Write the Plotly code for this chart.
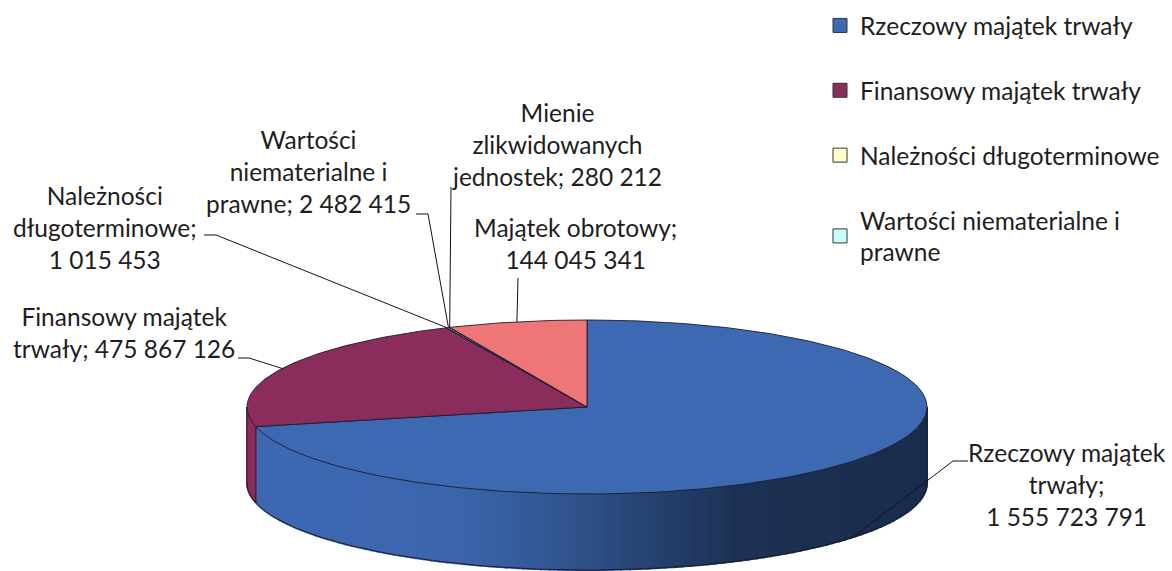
import math
import plotly.graph_objects as go

# ---- data ----
categories = ["Rzeczowy majątek trwały", "Finansowy majątek trwały", "Należności długoterminowe",
              "Wartości niematerialne i prawne", "Mienie zlikwidowanych jednostek", "Majątek obrotowy"]
values = [1555723791, 475867126, 1015453, 2482415, 280212, 144045341]
label_names = ["Rzeczowy majątek<br>trwały;<br>", "Finansowy majątek<br>trwały; ", "Należności<br>długoterminowe;<br>",
               "Wartości<br>niematerialne i<br>prawne; ", "Mienie<br>zlikwidowanych<br>jednostek; ", "Majątek obrotowy;<br>"]
legend_names = ["Rzeczowy majątek trwały", "Finansowy majątek trwały", "Należności długoterminowe",
                "Wartości niematerialne i<br>prawne"]
colors = ["#3D69B3", "#8B2D5C", "#FFFFC8", "#C8FFFF", "#3D3D6B", "#EE7676"]
legend_colors = ["#3D69B3", "#8B2D5C", "#FFFFC8", "#C8FFFF"]

# ---- layout of the tilted pie (pixel axes) ----
W, H = 1172, 571
CX, CY, RX, RY, DEPTH = 587, 407, 340, 87, 76
OUTLINE = "#1c1c2c"
TEXT = "#1e1e1e"
FONT = "Lato"
FS = 24.5
LEGEND_FS = 24.5
label_pos = [(1067, 484), (124, 332), (105, 227), (308, 171), (557, 144), (575, 243)]
# horizontal stub of each leader: start at label side, elbow
leader_stub = [(968, 953), (238, 249), (204, 216), (416, 428), (451, 451), (518, 518)]
leader_y = [461, 358, 235, 214, 187, 278]
# gradient stops of the side wall: position along x in the wall, shade factor
shade_stops = [(0.0, 1.0), (0.3, 0.97), (0.45, 0.82), (0.6, 0.62), (0.72, 0.47), (1.0, 0.42)]


def pt(deg, dy=0.0):
    a = math.radians(deg)
    return CX + RX * math.sin(a), CY - RY * math.cos(a) + dy


def shade(hexc, f):
    r, g, b = (int(hexc[i:i + 2], 16) for i in (1, 3, 5))
    return f"rgb({r * f:.0f},{g * f:.0f},{b * f:.0f})"


def factor(x):
    t = (x - (CX - RX)) / (2 * RX)
    for (a, fa), (b, fb) in zip(shade_stops, shade_stops[1:]):
        if t <= b:
            return fa + (fb - fa) * (t - a) / (b - a)
    return shade_stops[-1][1]


total = sum(values)
angles = [0.0]
for v in values:
    angles.append(angles[-1] + v / total * 360)

fig = go.Figure()
skip = dict(hoverinfo="skip", showlegend=False)

# side wall: narrow strips, front half only (90..270 degrees)
for i, col in enumerate(colors):
    a0, a1 = max(angles[i], 90), min(angles[i + 1], 270)
    if a1 <= a0:
        continue
    n = max(1, int((a1 - a0) / 1.5))
    for k in range(n):
        s0, s1 = a0 + (a1 - a0) * k / n, a0 + (a1 - a0) * (k + 1) / n
        p0, p1 = pt(s0), pt(s1)
        c = shade(col, factor((p0[0] + p1[0]) / 2))
        fig.add_trace(go.Scatter(
            x=[p0[0], p1[0], p1[0], p0[0], p0[0]],
            y=[p0[1], p1[1], p1[1] + DEPTH, p0[1] + DEPTH, p0[1]],
            mode="lines", fill="toself", fillcolor=c, line=dict(color=c, width=2), **skip))

# outline of the wall
arc = [90 + i * 1.5 for i in range(121)]
fig.add_trace(go.Scatter(x=[pt(a, DEPTH)[0] for a in arc], y=[pt(a, DEPTH)[1] for a in arc],
                         mode="lines", line=dict(color=OUTLINE, width=1), **skip))
for a in (90, 270, angles[1]):
    p = pt(a)
    fig.add_trace(go.Scatter(x=[p[0], p[0]], y=[p[1], p[1] + DEPTH], mode="lines",
                             line=dict(color=OUTLINE, width=0.8), **skip))

# top faces
for i, col in enumerate(colors):
    n = max(2, int((angles[i + 1] - angles[i]) / 1.0))
    sweep = [angles[i] + (angles[i + 1] - angles[i]) * k / n for k in range(n + 1)]
    xs = [CX] + [pt(a)[0] for a in sweep] + [CX]
    ys = [CY] + [pt(a)[1] for a in sweep] + [CY]
    fig.add_trace(go.Scatter(x=xs, y=ys, mode="lines", fill="toself", fillcolor=col,
                             line=dict(color=OUTLINE, width=0.9), name=categories[i],
                             text=f"{categories[i]}: {values[i]:,}".replace(",", " "),
                             hoverinfo="text", showlegend=False))

# leader lines and data labels
for i, v in enumerate(values):
    mid = (angles[i] + angles[i + 1]) / 2
    end = pt(mid, DEPTH if 90 < mid < 270 else 0)
    sx, ex = leader_stub[i]
    fig.add_trace(go.Scatter(x=[sx, ex, end[0]], y=[leader_y[i], leader_y[i], end[1]], mode="lines",
                             line=dict(color="#141414", width=1), **skip))
    fig.add_annotation(x=label_pos[i][0], y=label_pos[i][1], xref="x", yref="y", showarrow=False,
                       text=label_names[i] + f"{v:,}".replace(",", " "), align="center",
                       font=dict(family=FONT, size=FS, color=TEXT))

# legend entries
for name, col in zip(legend_names, legend_colors):
    fig.add_trace(go.Scatter(x=[None], y=[None], mode="markers", name=name, legendgroup=name,
                             marker=dict(symbol="square", size=14, color=col,
                                         line=dict(color="#333333", width=1))))

fig.update_layout(
    width=W, height=H, margin=dict(l=0, r=0, t=0, b=0),
    paper_bgcolor="white", plot_bgcolor="white",
    xaxis=dict(range=[0, W], visible=False, fixedrange=True),
    yaxis=dict(range=[H, 0], visible=False, fixedrange=True),
    legend=dict(x=820 / W, y=1 - 3 / H, xanchor="left", yanchor="top", tracegroupgap=30,
                bgcolor="rgba(0,0,0,0)", font=dict(family=FONT, size=LEGEND_FS, color=TEXT)),
)
fig.write_html("out.html", config=dict(displayModeBar=False),
               post_script="document.body.style.margin='0';document.body.style.overflow='hidden';")
